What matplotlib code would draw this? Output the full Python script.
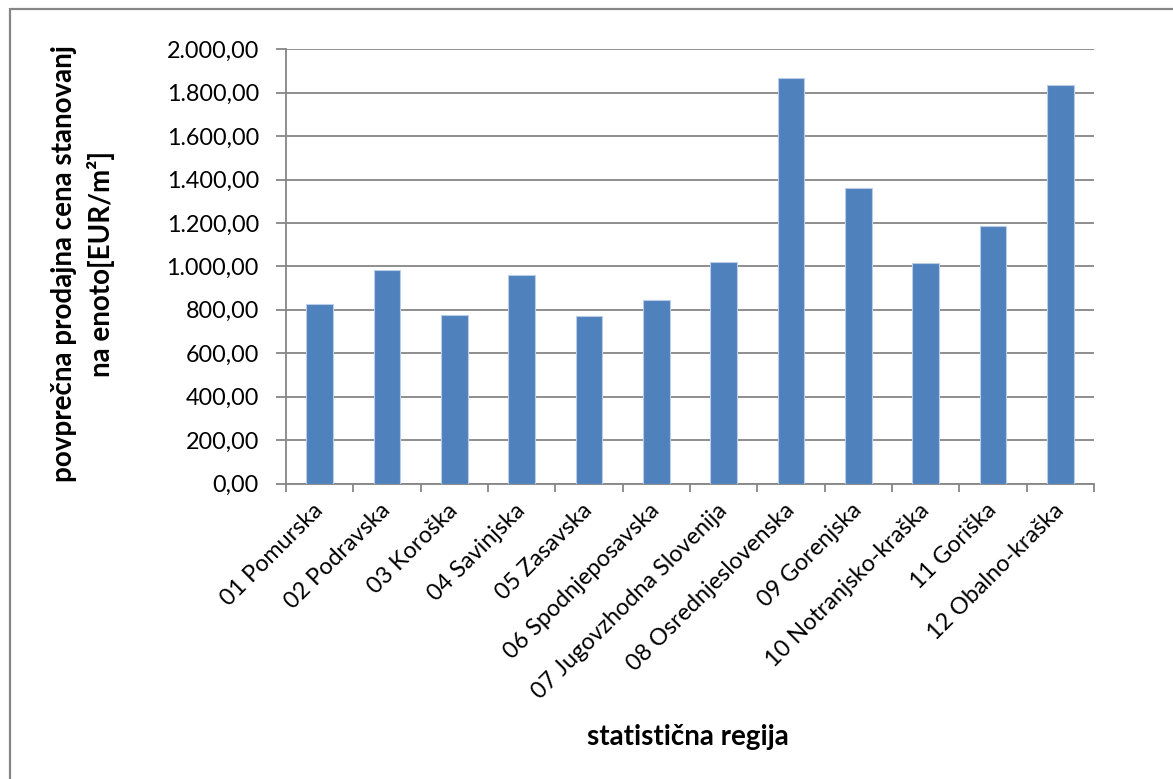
import matplotlib
matplotlib.use("Agg")
import matplotlib.pyplot as plt
from matplotlib.patches import Rectangle
from matplotlib.ticker import FuncFormatter, FixedLocator
import numpy as np

regions = ["01 Pomurska", "02 Podravska", "03 Koroška", "04 Savinjska", "05 Zasavska",
           "06 Spodnjeposavska", "07 Jugovzhodna Slovenija", "08 Osrednjeslovenska",
           "09 Gorenjska", "10 Notranjsko-kraška", "11 Goriška", "12 Obalno-kraška"]
prices = [828, 982, 776, 961, 770, 845, 1020, 1866, 1362, 1014, 1185, 1835]
y_ticks = [0, 200, 400, 600, 800, 1000, 1200, 1400, 1600, 1800, 2000]

plt.rcParams['font.family'] = ['Lato', 'DejaVu Sans']
W, H = 1173, 779
fig = plt.figure(figsize=(W / 100, H / 100), dpi=100)

# outer frame
fig.patches.append(Rectangle((9.5 / W, -0.1), 1.2, 1 - 9.5 / H + 0.1, transform=fig.transFigure,
                             fill=False, edgecolor='#868686', linewidth=1.6))

ax = fig.add_axes([286 / W, 1 - 483.5 / H, (1094 - 286) / W, (483.5 - 49.3) / H])
x = np.arange(len(regions))
ax.bar(x, prices, width=0.4, color='#4F81BD', edgecolor='#B9CDE5', linewidth=0.8, zorder=3)

ax.set_xlim(-0.5, len(regions) - 0.5)
ax.set_ylim(0, 2000)
ax.set_yticks(y_ticks)
ax.yaxis.set_major_formatter(FuncFormatter(
    lambda v, p: f"{v:,.2f}".replace(",", "X").replace(".", ",").replace("X", ".")))
ax.grid(axis='y', color='#868686', linewidth=1.3, zorder=0)
for s in ['top', 'right']:
    ax.spines[s].set_visible(False)
for s in ['left', 'bottom']:
    ax.spines[s].set_color('#868686')
    ax.spines[s].set_linewidth(1.3)

ax.tick_params(axis='y', length=7, width=1.3, color='#868686', pad=12.5, labelsize=16.8)
ax.set_xticks(x)
ax.set_xticklabels(regions, rotation=45, ha='right', va='center', rotation_mode='anchor', fontsize=16.8)
ax.tick_params(axis='x', which='major', length=0, pad=17)
ax.xaxis.set_minor_locator(FixedLocator(np.arange(-0.5, len(regions), 1.0)))
ax.tick_params(axis='x', which='minor', length=6, width=1.3, color='#868686')

fig.text(688 / W, 1 - 737 / H, "statistična regija", ha='center', va='center',
         fontsize=20, fontweight='bold')
fig.text(83 / W, 1 - 264 / H, "povprečna prodajna cena stanovanj\nna enoto[EUR/m²]",
         ha='center', va='center', rotation=90, fontsize=20, fontweight='bold',
         multialignment='center', linespacing=1.4)

fig.savefig("out.png", dpi=100)
